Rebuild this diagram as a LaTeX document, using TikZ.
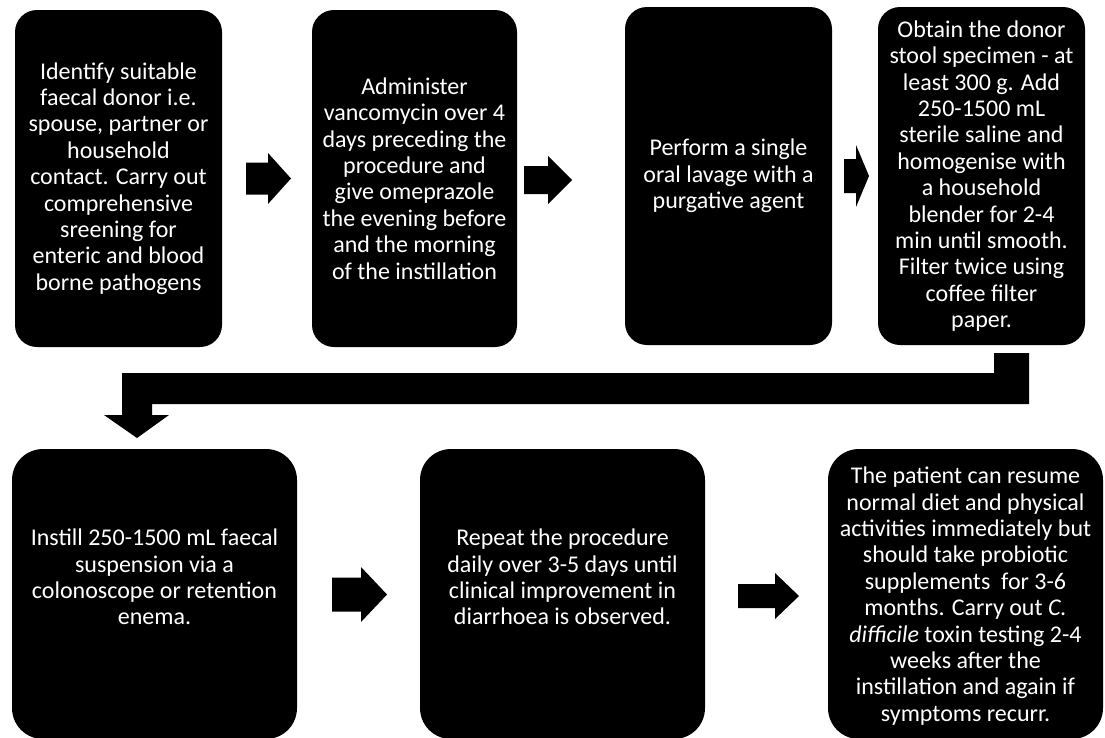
\documentclass[tikz,border=0pt]{standalone}
\usepackage{fontspec}
\setmainfont{Carlito}
% right-pointing block arrow: x start, x head base, x tip, y centre, shaft half height, head half height
\newcommand\rblockarrow[6]{%
  \fill[black] (#1,#4-#5) -- (#2,#4-#5) -- (#2,#4-#6) -- (#3,#4)
    -- (#2,#4+#6) -- (#2,#4+#5) -- (#1,#4+#5) -- cycle;}
\begin{document}
\begin{tikzpicture}[x=1pt,y=-1pt,
  stepbox/.style={fill=black,draw=none,inner sep=0pt},
  steptext/.style={text=white,align=center,inner sep=0pt,
    font=\fontsize{24}{26.4}\selectfont}]
\useasboundingbox (0,0) rectangle (1105,737);

% top row
\node[stepbox,rounded corners=22pt,minimum width=207,minimum height=337] (b1) at (118.5,178.5) {};
\node[stepbox,rounded corners=22pt,minimum width=205,minimum height=337] (b2) at (414.5,178.5) {};
\node[stepbox,rounded corners=22pt,minimum width=207,minimum height=338] (b3) at (728.5,176) {};
\node[stepbox,rounded corners=22pt,minimum width=207,minimum height=338] (b4) at (981.5,176) {};

% bottom row
\node[stepbox,rounded corners=31pt,minimum width=285,minimum height=290] (b5) at (154.5,594) {};
\node[stepbox,rounded corners=31pt,minimum width=285,minimum height=290] (b6) at (562.5,594) {};
\node[stepbox,rounded corners=31pt,minimum width=275,minimum height=290] (b7) at (965.5,594) {};

% step texts
\node[steptext] (t1) at (b1.center) {Identify suitable\\faecal donor i.e.\\spouse, partner or\\household\\contact. Carry out\\comprehensive\\sreening for\\enteric and blood\\borne pathogens};
\node[steptext] (t2) at (b2.center) {Administer\\vancomycin over 4\\days preceding the\\procedure and\\give omeprazole\\the evening before\\and the morning\\of the instillation};
\node[steptext] (t3) at (b3.center) {Perform a single\\oral lavage with a\\purgative agent};
\node[steptext] (t4) at (b4.center) {Obtain the donor\\stool specimen - at\\least 300 g. Add\\250-1500 mL\\sterile saline and\\homogenise with\\a household\\blender for 2-4\\min until smooth.\\Filter twice using\\coffee filter\\paper.};
\node[steptext] (t5) at ([yshift=17pt]b5.center) {Instill 250-1500 mL faecal\\suspension via a\\colonoscope or retention\\enema.};
\node[steptext] (t6) at ([yshift=17pt]b6.center) {Repeat the procedure\\daily over 3-5 days until\\clinical improvement in\\diarrhoea is observed.};
\node[steptext] (t7) at ([yshift=-2pt]b7.center) {The patient can resume\\normal diet and physical\\activities immediately but\\should take probiotic\\supplements\ \ for 3-6\\months. Carry out \textit{C.}\\\textit{difficile} toxin testing 2-4\\weeks after the\\instillation and again if\\symptoms recurr.};

% block arrows between steps
\rblockarrow{246}{268}{291}{178.5}{16}{25.5}
\rblockarrow{524}{548}{572}{180}{14}{24}
\rblockarrow{844}{856}{869}{176}{17}{31}
\rblockarrow{332}{361}{387}{594.5}{17}{27.5}
\rblockarrow{738}{775}{799}{596}{12}{23}

% elbow arrow from the end of the top row to the start of the bottom row
\fill[black] (994,353) -- (1029,353) -- (1029,404) -- (152,404) -- (152,415)
  -- (169,415) -- (137,438) -- (104,415) -- (122,415) -- (122,373)
  -- (994,373) -- cycle;
\end{tikzpicture}
\end{document}
